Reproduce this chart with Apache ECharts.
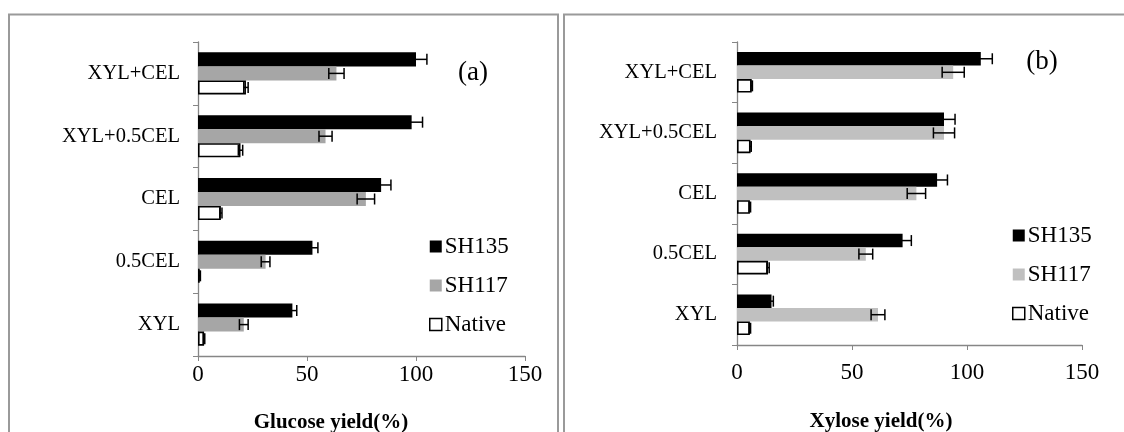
<!DOCTYPE html>
<html>
<head>
<meta charset="utf-8">
<script src="https://cdn.jsdelivr.net/npm/echarts@6/dist/echarts.min.js"></script>
<style>html,body{margin:0;padding:0;background:#fff;}#c{width:1124px;height:432px;}</style>
</head>
<body>
<div id="c"></div>
<script>
// ---- data ----
const categories = ['XYL+CEL', 'XYL+0.5CEL', 'CEL', '0.5CEL', 'XYL'];
const seriesNames = ['SH135', 'SH117', 'Native'];
const xTicks = [0, 50, 100, 150];

// Glucose yield (%) — panel (a)
const glucoseSH135 = [100, 98, 84, 52.5, 43.3];
const glucoseSH135Err = [5, 5, 4.5, 2.5, 2];
const glucoseSH117 = [63.5, 58.5, 77, 31, 21];
const glucoseSH117Err = [3.5, 3, 4, 2, 2];
const glucoseNative = [22, 19.5, 10.5, 0.8, 2.8];
const glucoseNativeErr = [1, 1, 0.5, 0.3, 0.3];

// Xylose yield (%) — panel (b)
const xyloseSH135 = [106, 90, 87, 72, 15];
const xyloseSH135Err = [5, 4.8, 4.5, 3.8, 0.8];
const xyloseSH117 = [94, 90, 78, 56, 61.3];
const xyloseSH117Err = [4.8, 4.6, 4, 3, 3];
const xyloseNative = [6.4, 5.9, 5.6, 13.5, 5.6];
const xyloseNativeErr = [0.3, 0.3, 0.3, 0.5, 0.3];

// ---- chart ----
const FONT = '"Liberation Serif", "Times New Roman", serif';
const GAP = 0.33;
const colorsA = ['#000000', '#a6a6a6', '#ffffff'];
const colorsB = ['#000000', '#c0c0c0', '#ffffff'];

function barSeries(name, data, color, idx) {
  return {
    name: name, type: 'bar', xAxisIndex: idx, yAxisIndex: idx,
    data: data, barGap: '0%', barCategoryGap: (GAP * 100) + '%',
    itemStyle: color === '#ffffff'
      ? { color: '#ffffff', borderColor: '#000', borderWidth: 1.6 }
      : { color: color },
    emphasis: { disabled: true }, animation: false
  };
}

function errSeries(vals, errs, idx) {
  const data = [];
  vals.forEach((arr, s) => {
    arr.forEach((v, i) => data.push([v, i, errs[s][i], s]));
  });
  return {
    type: 'custom', xAxisIndex: idx, yAxisIndex: idx, z: 10,
    silent: true, animation: false,
    encode: { x: 0, y: 1 },
    data: data,
    renderItem: function (params, api) {
      const v = api.value(0), c = api.value(1), e = api.value(2), s = api.value(3);
      const band = api.size([0, 1])[1];
      const total = band * (1 - GAP);
      const bw = total / 3;
      const p = api.coord([v, c]);
      const y = p[1] - total / 2 + bw * (s + 0.5);
      const lo = api.coord([v - e, c])[0];
      const hi = api.coord([v + e, c])[0];
      const h = 5.5;
      const st = { stroke: '#000', lineWidth: 1.5 };
      return {
        type: 'group',
        children: [
          { type: 'line', shape: { x1: lo, y1: y, x2: hi, y2: y }, style: st },
          { type: 'line', shape: { x1: lo, y1: y - h, x2: lo, y2: y + h }, style: st },
          { type: 'line', shape: { x1: hi, y1: y - h, x2: hi, y2: y + h }, style: st }
        ]
      };
    }
  };
}

function xAxis(idx, margin) {
  return {
    type: 'value', gridIndex: idx, min: xTicks[0], max: xTicks[xTicks.length - 1], interval: 50,
    axisLine: { show: true, lineStyle: { color: '#868686', width: 1.3 } },
    axisTick: { show: true, length: 5, lineStyle: { color: '#868686' } },
    splitLine: { show: false },
    axisLabel: { color: '#000', fontFamily: FONT, fontSize: 23, margin: margin }
  };
}
function yAxis(idx, margin) {
  return {
    type: 'category', gridIndex: idx, data: categories, inverse: true,
    axisLine: { show: true, lineStyle: { color: '#868686', width: 1.3 } },
    axisTick: { show: true, length: 5, alignWithLabel: false, lineStyle: { color: '#868686' } },
    axisLabel: { color: '#000', fontFamily: FONT, fontSize: 20.5, margin: margin }
  };
}

function legend(left, top, sh117Color) {
  return {
    orient: 'vertical', left: left, top: top, itemWidth: 12, itemHeight: 12, itemGap: 16,
    icon: 'rect', selectedMode: false,
    textStyle: { fontFamily: FONT, fontSize: 23, color: '#000', padding: [0, 0, 0, -2] },
    data: [
      { name: 'SH135', itemStyle: { color: '#000' } },
      { name: 'SH117', itemStyle: { color: sh117Color } },
      { name: 'Native', itemStyle: { color: '#fff', borderColor: '#000', borderWidth: 1.5 } }
    ]
  };
}

const chart = echarts.init(document.getElementById('c'), null, { renderer: 'canvas' });
chart.setOption({
  backgroundColor: '#fff',
  animation: false,
  grid: [
    { left: 198, top: 42, width: 327, height: 314 },
    { left: 737, top: 42, width: 345, height: 303 }
  ],
  xAxis: [xAxis(0, 7), xAxis(1, 16)],
  yAxis: [yAxis(0, 18), yAxis(1, 20)],
  legend: [legend(424, 230, colorsA[1]), legend(1007, 219, colorsB[1])],
  series: [
    barSeries(seriesNames[0], glucoseSH135, colorsA[0], 0),
    barSeries(seriesNames[1], glucoseSH117, colorsA[1], 0),
    barSeries(seriesNames[2], glucoseNative, colorsA[2], 0),
    errSeries([glucoseSH135, glucoseSH117, glucoseNative], [glucoseSH135Err, glucoseSH117Err, glucoseNativeErr], 0),
    barSeries(seriesNames[0], xyloseSH135, colorsB[0], 1),
    barSeries(seriesNames[1], xyloseSH117, colorsB[1], 1),
    barSeries(seriesNames[2], xyloseNative, colorsB[2], 1),
    errSeries([xyloseSH135, xyloseSH117, xyloseNative], [xyloseSH135Err, xyloseSH117Err, xyloseNativeErr], 1)
  ],
  graphic: [
    { type: 'rect', shape: { x: 9, y: 14.5, width: 549, height: 440 }, style: { fill: null, stroke: '#9a9a9a', lineWidth: 2 }, silent: true },
    { type: 'rect', shape: { x: 564, y: 14.5, width: 600, height: 440 }, style: { fill: null, stroke: '#9a9a9a', lineWidth: 2 }, silent: true },
    { type: 'text', x: 473, y: 73, style: { text: '(a)', font: '27px ' + FONT, fill: '#000', align: 'center', verticalAlign: 'middle' } },
    { type: 'text', x: 1042, y: 62, style: { text: '(b)', font: '27px ' + FONT, fill: '#000', align: 'center', verticalAlign: 'middle' } },
    { type: 'text', x: 331, y: 423, style: { text: 'Glucose yield(%)', font: 'bold 21px ' + FONT, fill: '#000', align: 'center', verticalAlign: 'middle' } },
    { type: 'text', x: 881, y: 422, style: { text: 'Xylose yield(%)', font: 'bold 21px ' + FONT, fill: '#000', align: 'center', verticalAlign: 'middle' } }
  ]
});
</script>
</body>
</html>
